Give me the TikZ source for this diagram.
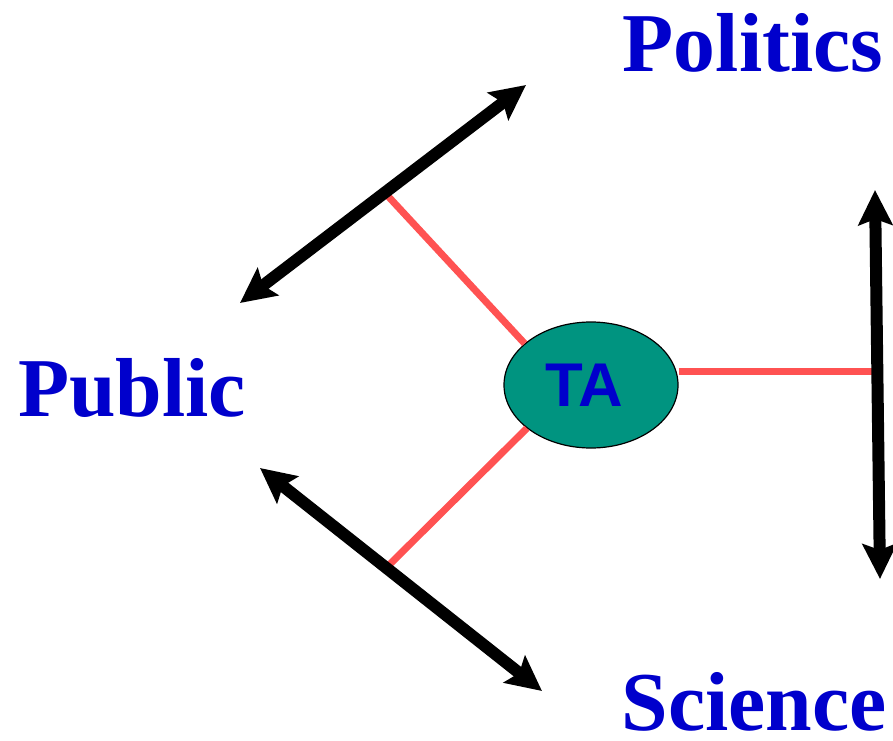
\documentclass[tikz,border=0pt]{standalone}
\usepackage{fontspec}
\setmainfont{Liberation Serif}
\setsansfont{Liberation Sans}
\usetikzlibrary{arrows.meta,shapes.geometric}
\definecolor{labelBlue}{HTML}{0000CC}
\definecolor{taFill}{HTML}{009480}
\definecolor{linkRed}{HTML}{FF5252}

\begin{document}
\begin{tikzpicture}[
  x=1bp,y=-1bp,
  >={Stealth[length=35bp,width=34bp,inset=6bp]},
  actor/.style={font=\rmfamily\bfseries\fontsize{84}{86}\selectfont,text=labelBlue,anchor=base,inner sep=0pt},
  hub/.style={ellipse,draw=black,line width=1.2bp,fill=taFill,minimum width=174bp,minimum height=126bp,inner sep=0pt,font=\sffamily\bfseries\fontsize{62}{64}\selectfont,text=labelBlue},
  relation/.style={<->,line width=12bp,draw=black},
  mediation/.style={line width=7bp,draw=linkRed}
]
\useasboundingbox (0,0) rectangle (893,741);
% the three actors and the assessment in the middle
\node[actor] (politics) at (753,72) {Politics};
\node[actor] (public) at (132,416) {Public};
\node[actor] (science) at (754,730) {Science};
\node[hub] (ta) at (591,385) {\hspace*{-14bp}TA};
% ends of the double arrows between the actors
\coordinate (pubtop) at (240,303);
\coordinate (poltop) at (526,85);
\coordinate (pubbot) at (260,468);
\coordinate (scibot) at (542,691);
\coordinate (polright) at (875,190);
\coordinate (sciright) at (880,579);
% where the red links meet the arrows
\coordinate (hitpp) at (386,194);
\coordinate (hitps) at (386,568);
\coordinate (hitsp) at (875,371);
\draw[mediation] (ta.148) -- (hitpp);
\draw[mediation] (ta.214) -- (hitps);
\draw[mediation] (hitsp -| ta.east) -- (hitsp);
\draw[relation] (pubtop) -- (poltop);
\draw[relation] (pubbot) -- (scibot);
\draw[relation] (polright) -- (sciright);
\end{tikzpicture}
\end{document}
